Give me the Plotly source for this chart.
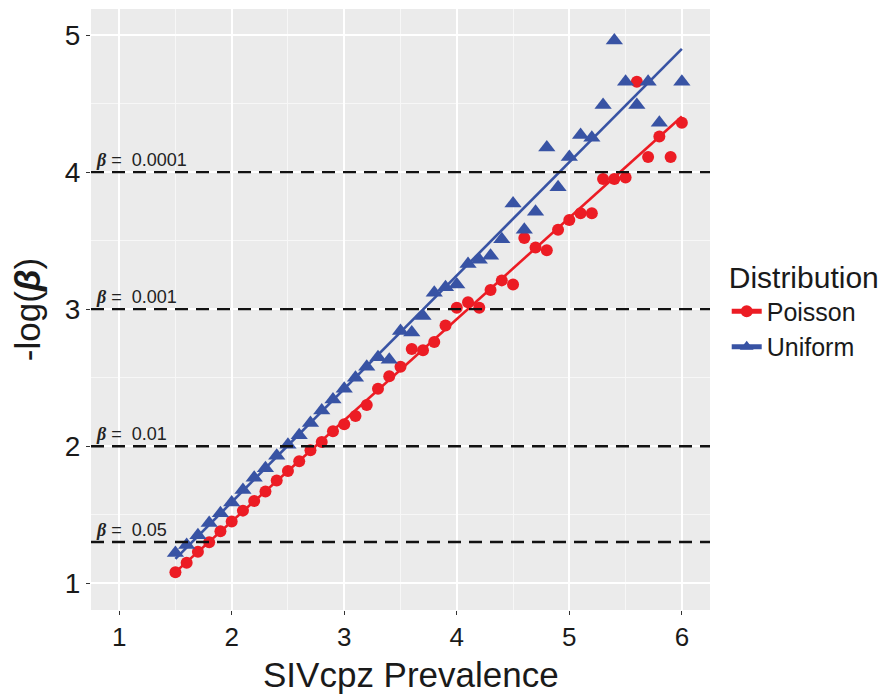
import numpy as np
import plotly.graph_objects as go

prevalence = [1.5, 1.6, 1.7, 1.8, 1.9, 2.0, 2.1, 2.2, 2.3, 2.4, 2.5, 2.6, 2.7, 2.8, 2.9,
              3.0, 3.1, 3.2, 3.3, 3.4, 3.5, 3.6, 3.7, 3.8, 3.9, 4.0, 4.1, 4.2, 4.3, 4.4,
              4.5, 4.6, 4.7, 4.8, 4.9, 5.0, 5.1, 5.2, 5.3, 5.4, 5.5, 5.6, 5.7, 5.8, 5.9, 6.0]
poisson = [1.08, 1.15, 1.23, 1.30, 1.38, 1.45, 1.53, 1.60, 1.67, 1.75, 1.82, 1.89, 1.97, 2.03, 2.11,
           2.16, 2.22, 2.30, 2.42, 2.51, 2.58, 2.71, 2.70, 2.76, 2.88, 3.01, 3.05, 3.01, 3.14, 3.21,
           3.18, 3.52, 3.45, 3.43, 3.58, 3.65, 3.70, 3.70, 3.95, 3.95, 3.96, 4.66, 4.11, 4.26, 4.11, 4.36]
uniform = [1.22, 1.28, 1.35, 1.44, 1.51, 1.59, 1.68, 1.77, 1.84, 1.93, 2.01, 2.08, 2.17, 2.26, 2.34,
           2.42, 2.50, 2.58, 2.65, 2.63, 2.84, 2.83, 2.95, 3.12, 3.16, 3.18, 3.33, 3.36, 3.39, 3.51,
           3.77, 3.58, 3.71, 4.18, 3.89, 4.11, 4.27, 4.25, 4.49, 4.96, 4.66, 4.49, 4.66, 4.36, None, 4.66]
beta_levels = [0.0001, 0.001, 0.01, 0.05]
beta_labels = ["0.0001", "0.001", "0.01", "0.05"]
x_ticks = [1, 2, 3, 4, 5, 6]
y_ticks = [1, 2, 3, 4, 5]

RED = "#EC1C24"
BLUE = "#3853A4"
FONT = "Liberation Sans, Arial, sans-serif"
TXT = "#1a1a1a"

fig = go.Figure()

def fit_line(xs, ys):
    pts = [(a, b) for a, b in zip(xs, ys) if b is not None]
    xa = np.array([p[0] for p in pts]); ya = np.array([p[1] for p in pts])
    k, c = np.polyfit(xa, ya, 1)
    xl = [min(xa), max(xa)]
    return xl, [k * v + c for v in xl]

for name, ys, col, sym, sz in [("Poisson", poisson, RED, "circle", 12),
                               ("Uniform", uniform, BLUE, "triangle-up", 15)]:
    xl, yl = fit_line(prevalence, ys)
    fig.add_trace(go.Scatter(x=xl, y=yl, mode="lines", line=dict(color=col, width=2.6),
                             showlegend=False, hoverinfo="skip"))
    fig.add_trace(go.Scatter(x=prevalence, y=ys, mode="markers",
                             marker=dict(color=col, symbol=sym, size=sz, line=dict(width=0)),
                             showlegend=False))
    fig.add_trace(go.Scatter(x=[None], y=[None], mode="lines+markers", name=name,
                             line=dict(color=col, width=2.6),
                             marker=dict(color=col, symbol=sym, size=sz, line=dict(width=0))))

for b, lab in zip(beta_levels, beta_labels):
    yv = -np.log10(b)
    fig.add_shape(type="line", xref="paper", x0=0, x1=1, yref="y", y0=yv, y1=yv,
                  line=dict(color="#111111", width=2.4, dash="13px,8px"), layer="above")
    fig.add_annotation(xref="paper", x=0, xanchor="left", xshift=3, yref="y", y=yv,
                       yanchor="bottom", yshift=0, showarrow=False,
                       text="<span style=\"font-family:'Liberation Serif'\"><b><i>β</i></b></span> =&nbsp; " + lab,
                       font=dict(family=FONT, size=18, color="#222222"))

fig.add_annotation(xref="paper", x=0.517, xanchor="center", yref="paper", y=0,
                   yanchor="middle", yshift=-64, showarrow=False, borderpad=0,
                   text="SIVcpz Prevalence", font=dict(family=FONT, size=35, color=TXT))

fig.update_layout(
    width=888, height=695,
    margin=dict(l=83, r=186, t=1, b=93, autoexpand=False),
    paper_bgcolor="white", plot_bgcolor="#EBEBEB",
    font=dict(family=FONT, color=TXT),
    legend=dict(x=1.027, y=0.60, xanchor="left", yanchor="top",
                title=dict(text="Distribution", font=dict(size=30, color=TXT)),
                font=dict(size=25, color=TXT), tracegroupgap=0, itemsizing="constant",
                bgcolor="rgba(0,0,0,0)"),
    xaxis=dict(range=[0.75, 6.25], tickvals=x_ticks, ticktext=[str(v) for v in x_ticks],
               showgrid=True, gridcolor="white", gridwidth=1.8, zeroline=False,
               ticks="outside", ticklen=4, tickwidth=1.4, tickcolor="#333333",
               tickfont=dict(size=26, color=TXT), showline=False, automargin=False,
               minor=dict(tickvals=[1.5, 2.5, 3.5, 4.5, 5.5], showgrid=True,
                          gridcolor="#F7F7F7", gridwidth=0.9, ticks="")),
    yaxis=dict(range=[0.805, 5.19], tickvals=y_ticks, ticktext=[str(v) for v in y_ticks],
               showgrid=True, gridcolor="white", gridwidth=1.8, zeroline=False,
               ticks="outside", ticklen=4, tickwidth=1.4, tickcolor="#333333",
               tickfont=dict(size=28, color=TXT), showline=False, automargin=False,
               minor=dict(tickvals=[1.5, 2.5, 3.5, 4.5], showgrid=True,
                          gridcolor="#F7F7F7", gridwidth=0.9, ticks=""),
               title=dict(text="-log(<b><i>β</i></b>)", font=dict(size=35, color=TXT), standoff=14)),
)

fig.write_html("out.html")
